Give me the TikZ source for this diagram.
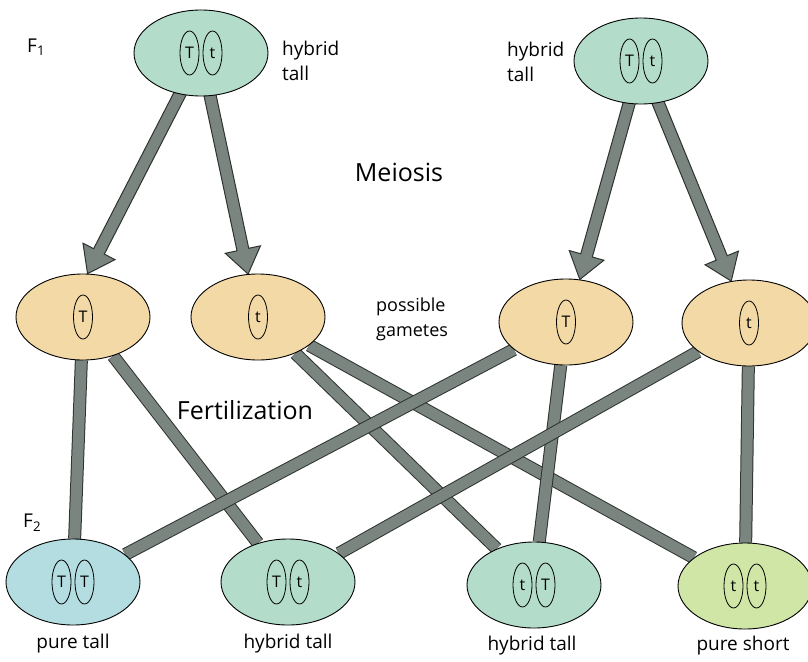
\documentclass[tikz,border=0pt]{standalone}
\usepackage{fontspec}
\setmainfont{Open Sans}
\usetikzlibrary{calc,shapes.geometric}
\pgfdeclarelayer{background}
\pgfsetlayers{background,main}

\definecolor{mint}{HTML}{B3DCCB}
\definecolor{tan}{HTML}{F2D9A5}
\definecolor{skyblue}{HTML}{B3DDE0}
\definecolor{limegreen}{HTML}{CFE6A7}
\definecolor{bargray}{HTML}{7A8580}
\definecolor{bardark}{HTML}{2E3330}

\tikzset{
  cell/.style={ellipse, draw=black, line width=0.9pt, minimum width=134pt,
    minimum height=86pt, inner sep=0pt},
  allele/.style={ellipse, draw=black, line width=0.8pt, minimum width=19pt,
    minimum height=44pt, inner sep=0pt, font=\fontsize{16}{16}\selectfont},
  label/.style={font=\fontsize{19}{25}\selectfont, inner sep=0pt},
  stage/.style={font=\fontsize{25}{28}\selectfont, inner sep=0pt},
  bar/.style={draw=bardark, line width=1pt, double=bargray, double distance=11pt},
  arrowbody/.style={fill=bargray, draw=bardark, line width=1pt, line join=miter},
}

% thick block arrow from #1 to the tip #2
\newcommand\fatarrow[2]{%
  \path ($(#2)!25pt!(#1)$) coordinate (hb);
  \filldraw[arrowbody]
    ($(#1)!6pt!90:(#2)$) -- ($(hb)!6pt!90:(#2)$) -- ($(hb)!18pt!90:(#2)$)
    -- (#2) -- ($(hb)!18pt!-90:(#2)$) -- ($(hb)!6pt!-90:(#2)$)
    -- ($(#1)!6pt!-90:(#2)$) -- cycle;
}

\begin{document}
\begin{tikzpicture}[x=1pt,y=-1pt]
\useasboundingbox (0,0) rectangle (808,661);

% parents (F1)
\node[cell, fill=mint] (P1) at (201,53) {};
\node[cell, fill=mint] (P2) at (641,61) {};
\node[allele] (P1a) at ($(P1)+(-11.5,0)$) {T};
\node[allele] (P1b) at ($(P1)+(11.5,0)$) {t};
\node[allele] (P2a) at ($(P2)+(-11.5,0)$) {T};
\node[allele] (P2b) at ($(P2)+(11.5,0)$) {t};

% gametes
\node[cell, fill=tan] (G1) at (83,317) {};
\node[cell, fill=tan] (G2) at (258,317) {};
\node[cell, fill=tan] (G3) at (566,322) {};
\node[cell, fill=tan] (G4) at (749,323) {};
\node[allele] (G1a) at (G1) {T};
\node[allele] (G2a) at (G2) {t};
\node[allele] (G3a) at (G3) {T};
\node[allele] (G4a) at (G4) {t};

% offspring (F2)
\node[cell, fill=skyblue] (O1) at (73,582) {};
\node[cell, fill=mint] (O2) at (288,582) {};
\node[cell, fill=mint] (O3) at (534,585) {};
\node[cell, fill=limegreen] (O4) at (745,586) {};
\node[allele] (O1a) at ($(O1)+(-11.5,0)$) {T};
\node[allele] (O1b) at ($(O1)+(11.5,0)$) {T};
\node[allele] (O2a) at ($(O2)+(-11.5,0)$) {T};
\node[allele] (O2b) at ($(O2)+(11.5,0)$) {t};
\node[allele] (O3a) at ($(O3)+(-11.5,0)$) {t};
\node[allele] (O3b) at ($(O3)+(11.5,0)$) {T};
\node[allele] (O4a) at ($(O4)+(-11.5,0)$) {t};
\node[allele] (O4b) at ($(O4)+(11.5,0)$) {t};

% text
\node[label, anchor=west] (F1lbl) at (27,47) {F\textsubscript{1}};
\node[label, anchor=west] (F2lbl) at (23,523) {F\textsubscript{2}};
\node[label, anchor=west, align=left] (h1) at (282,61) {hybrid\\tall};
\node[label, anchor=west, align=left] (h2) at (507,62) {hybrid\\tall};
\node[stage] (meiosis) at (399,172) {Meiosis};
\node[stage] (fert) at (245,410) {Fertilization};
\node[label, anchor=west, align=left, font=\fontsize{18}{25}\selectfont] (pg) at (376,319) {possible\\gametes};
\node[label] (l1) at (73,644) {pure tall};
\node[label] (l2) at (288,644) {hybrid tall};
\node[label] (l3) at (532,646) {hybrid tall};
\node[label] (l4) at (743,646) {pure short};

\begin{pgfonlayer}{background}
  \fill[white] (0,0) rectangle (808,661);
  % meiosis arrows
  \fatarrow{P1}{G1.84}
  \fatarrow{P1}{G2.103}
  \fatarrow{P2}{G3.72}
  \fatarrow{P2}{G4.113}
  % fertilization
  \draw[bar] (G1) -- (O1);
  \draw[bar] (G1) -- (O2);
  \draw[bar] (G2) -- (O3);
  \draw[bar] (G2) -- (O4);
  \draw[bar] (G3) -- (O3);
  \draw[bar] (G3) -- (O1);
  \draw[bar] (G4) -- (O4);
  \draw[bar] (G4) -- (O2);
\end{pgfonlayer}
\end{tikzpicture}
\end{document}
